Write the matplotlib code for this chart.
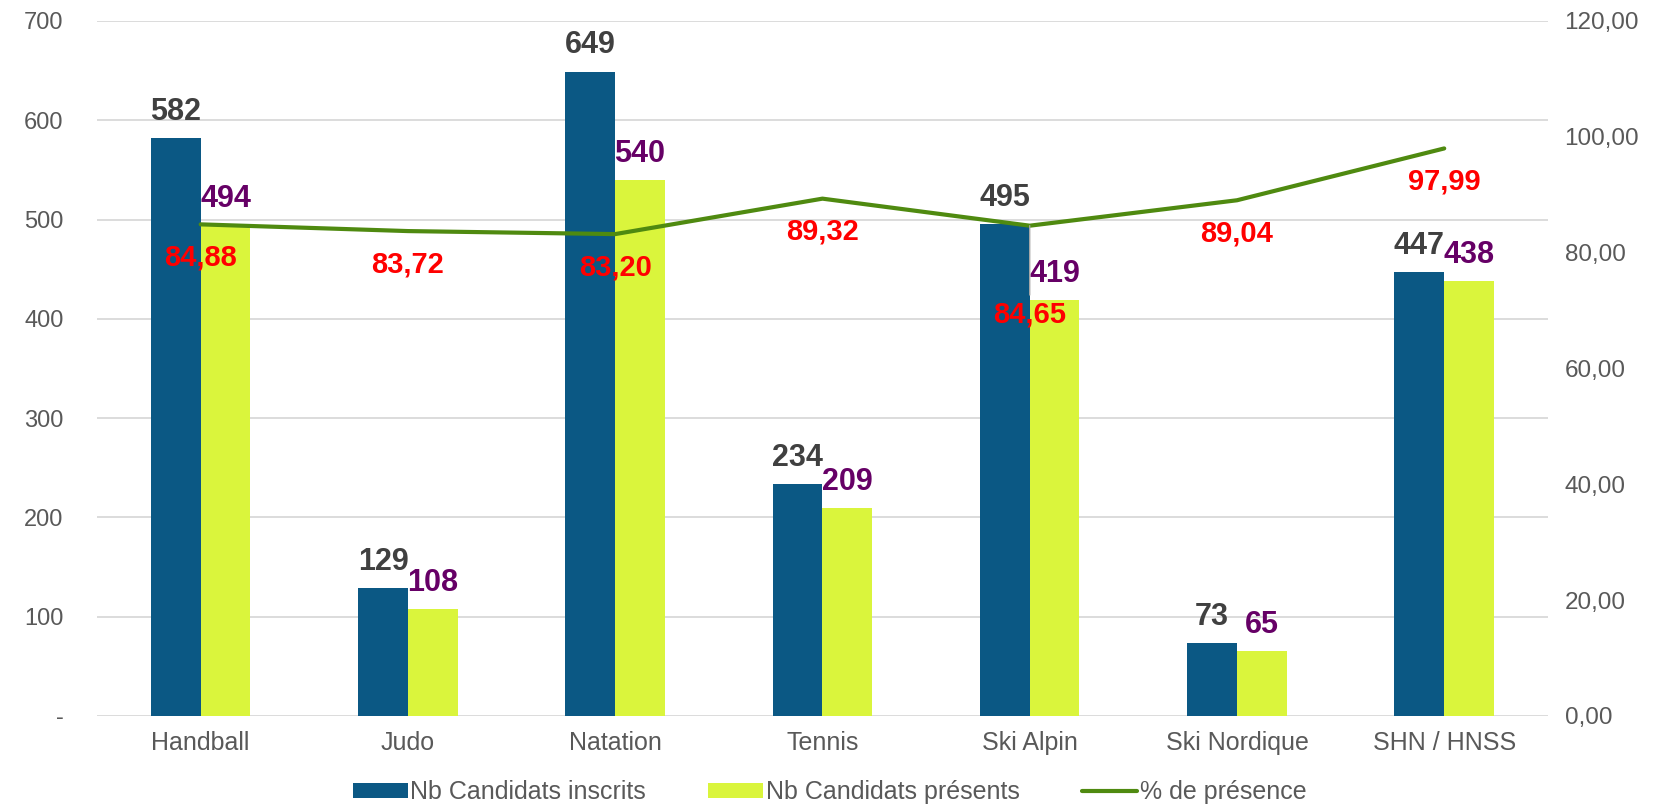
import matplotlib.pyplot as plt
import numpy as np
from matplotlib.ticker import FuncFormatter

plt.rcParams['font.family'] = ['Liberation Sans', 'DejaVu Sans']

sports = ["Handball", "Judo", "Natation", "Tennis", "Ski Alpin", "Ski Nordique", "SHN / HNSS"]
inscrits = [582, 129, 649, 234, 495, 73, 447]
presents = [494, 108, 540, 209, 419, 65, 438]
presence = [84.88, 83.72, 83.20, 89.32, 84.65, 89.04, 97.99]

c_blue = '#0B5884'
c_lime = '#DAF53C'
c_green = '#4F8A10'
c_tick = '#595959'

fig = plt.figure(figsize=(16.59, 8.06), dpi=100)
ax = fig.add_axes([0.0585, 0.1117, 0.8745, 0.8623])
ax2 = ax.twinx()

x = np.arange(len(sports))
w = 0.24
b1 = ax.bar(x - w / 2, inscrits, w, color=c_blue, label="Nb Candidats inscrits", zorder=2)
b2 = ax.bar(x + w / 2, presents, w, color=c_lime, label="Nb Candidats présents", zorder=2)

ax.set_xlim(-0.5, len(sports) - 0.5)
ax.set_ylim(0, 700)
ax.set_yticks(range(0, 701, 100))
ax.yaxis.set_major_formatter(FuncFormatter(lambda v, p: '-' if v == 0 else f'{int(v)}'))
ax.set_xticks(x)
ax.set_xticklabels(sports)
ax.grid(axis='y', color='#D9D9D9', lw=1.3, zorder=0)
ax.set_axisbelow(True)
ax.tick_params(axis='y', length=0, labelsize=17, colors=c_tick, pad=24)
ax.tick_params(axis='x', length=0, labelsize=18, colors=c_tick, pad=11)
for s in ax.spines.values():
    s.set_visible(False)

ax2.set_ylim(0, 120)
ax2.set_yticks(range(0, 121, 20))
ax2.yaxis.set_major_formatter(FuncFormatter(lambda v, p: f'{v:.2f}'.replace('.', ',')))
ax2.tick_params(length=0, labelsize=17.5, colors=c_tick, pad=12)
for s in ax2.spines.values():
    s.set_visible(False)

ln, = ax2.plot(x, presence, color=c_green, lw=3, label="% de présence", zorder=3,
               solid_capstyle='round')

for xi, v in zip(x, inscrits):
    ax.annotate(str(v), (xi - w / 2, v), xytext=(0, 8), textcoords='offset points',
                ha='center', va='bottom', fontsize=22, fontweight='bold', color='#404040')
for xi, v in zip(x, presents):
    ax.annotate(str(v), (xi + w / 2, v), xytext=(0, 8), textcoords='offset points',
                ha='center', va='bottom', fontsize=22, fontweight='bold', color='#660066')

# Ski Alpin label was pushed further down, with a leader line
for i, (xi, v) in enumerate(zip(x, presence)):
    txt = f'{v:.2f}'.replace('.', ',')
    if sports[i] == "Ski Alpin":
        ax2.annotate(txt, (xi, v), xytext=(0, -64), textcoords='offset points',
                     ha='center', va='center', fontsize=21, fontweight='bold', color='red',
                     zorder=5,
                     arrowprops=dict(arrowstyle='-', color='#A6A6A6', lw=1,
                                     shrinkA=2, shrinkB=0))
    else:
        ax2.annotate(txt, (xi, v), xytext=(0, -24), textcoords='offset points',
                     ha='center', va='center', fontsize=21, fontweight='bold', color='red',
                     zorder=5)

fig.legend(handles=[b1, b2, ln], loc='center', bbox_to_anchor=(0.5, 0.017), ncol=3,
           frameon=False, fontsize=18, handlelength=2.2, handleheight=0.5,
           columnspacing=2.5, handletextpad=0.1, labelcolor=c_tick)

fig.savefig('out.png', dpi=100)
